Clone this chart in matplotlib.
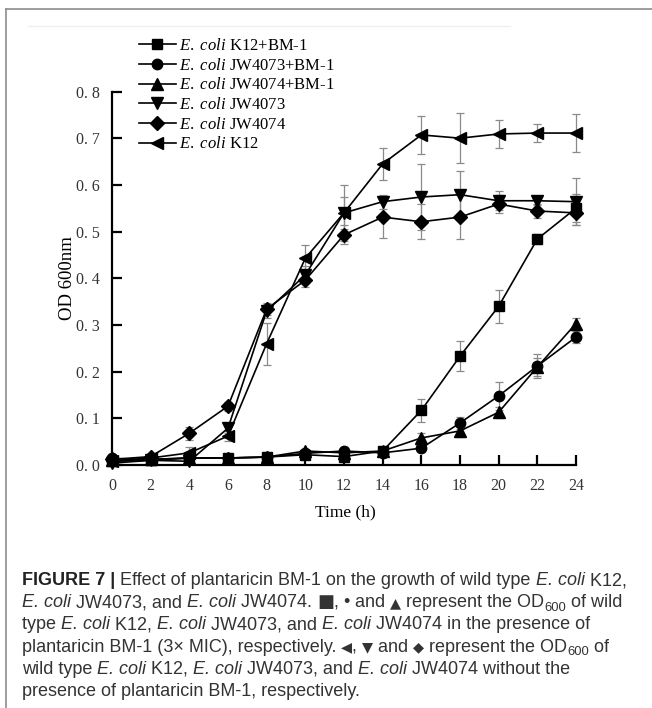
import matplotlib
matplotlib.use("Agg")
import matplotlib.pyplot as plt
from matplotlib.lines import Line2D
import numpy as np

# ---------------- data ----------------
time_h = [0, 2, 4, 6, 8, 10, 12, 14, 16, 18, 20, 22, 24]

k12_bm1 = [0.008, 0.010, 0.015, 0.015, 0.017, 0.022, 0.018, 0.030, 0.117, 0.233, 0.340, 0.484, 0.550]
k12_bm1_err = [0.003, 0.003, 0.003, 0.003, 0.003, 0.004, 0.004, 0.005, 0.025, 0.032, 0.035, 0.010, 0.030]

jw4073_bm1 = [0.014, 0.012, 0.015, 0.015, 0.017, 0.025, 0.030, 0.026, 0.036, 0.090, 0.148, 0.212, 0.274]
jw4073_bm1_err = [0.003, 0.003, 0.003, 0.003, 0.003, 0.004, 0.005, 0.005, 0.008, 0.012, 0.030, 0.025, 0.012]

jw4074_bm1 = [0.010, 0.012, 0.015, 0.015, 0.017, 0.030, 0.026, 0.030, 0.058, 0.073, 0.113, 0.210, 0.303]
jw4074_bm1_err = [0.003, 0.003, 0.003, 0.003, 0.003, 0.004, 0.004, 0.005, 0.010, 0.013, 0.012, 0.020, 0.012]

jw4073 = [0.004, 0.010, 0.008, 0.079, 0.330, 0.407, 0.540, 0.564, 0.574, 0.579, 0.566, 0.566, 0.564]
jw4073_err = [0.003, 0.004, 0.004, 0.010, 0.015, 0.020, 0.035, 0.015, 0.070, 0.050, 0.020, 0.010, 0.050]

jw4074 = [0.012, 0.018, 0.068, 0.126, 0.334, 0.396, 0.493, 0.531, 0.521, 0.531, 0.559, 0.544, 0.540]
jw4074_err = [0.003, 0.004, 0.014, 0.010, 0.012, 0.015, 0.020, 0.045, 0.037, 0.047, 0.020, 0.015, 0.025]

k12 = [0.008, 0.015, 0.026, 0.062, 0.260, 0.443, 0.540, 0.645, 0.707, 0.700, 0.709, 0.711, 0.711]
k12_err = [0.003, 0.008, 0.012, 0.010, 0.045, 0.028, 0.060, 0.035, 0.040, 0.053, 0.030, 0.020, 0.040]

series_labels = [r"$\mathit{E.\ coli}$ K12+BM-1",
                 r"$\mathit{E.\ coli}$ JW4073+BM-1",
                 r"$\mathit{E.\ coli}$ JW4074+BM-1",
                 r"$\mathit{E.\ coli}$ JW4073",
                 r"$\mathit{E.\ coli}$ JW4074",
                 r"$\mathit{E.\ coli}$ K12"]
series_values = [k12_bm1, jw4073_bm1, jw4074_bm1, jw4073, jw4074, k12]
series_errors = [k12_bm1_err, jw4073_bm1_err, jw4074_bm1_err, jw4073_err, jw4074_err, k12_err]
series_markers = ["s", "o", "^", "v", "D", "<"]
series_msize = [7, 7.5, 8, 8, 7, 8]

x_ticks = [0, 2, 4, 6, 8, 10, 12, 14, 16, 18, 20, 22, 24]
y_ticks = [0.0, 0.1, 0.2, 0.3, 0.4, 0.5, 0.6, 0.7, 0.8]
y_ticklabels = ["0. 0", "0. 1", "0. 2", "0. 3", "0. 4", "0. 5", "0. 6", "0. 7", "0. 8"]

# ---------------- figure ----------------
W, H = 652, 708
plt.rcParams["mathtext.fontset"] = "custom"
plt.rcParams["mathtext.rm"] = "Liberation Serif"
plt.rcParams["mathtext.it"] = "Liberation Serif:italic"
plt.rcParams["mathtext.bf"] = "Liberation Serif:bold"

fig = plt.figure(figsize=(W / 100, H / 100), dpi=100)
fig.patch.set_facecolor("white")

def fx(px):
    return px / W

def fy(py):
    return 1 - py / H

ax = fig.add_axes([fx(112), fy(465), fx(576) - fx(112), fy(91.5) - fy(465)])
ax.set_xlim(0, 24)
ax.set_ylim(0, 0.8)

for vals, errs, mk, ms, lab in zip(series_values, series_errors, series_markers,
                                   series_msize, series_labels):
    ax.errorbar(time_h, vals, yerr=errs, fmt="none", ecolor="#8a8a8a",
                elinewidth=0.9, capsize=3.2, capthick=0.9, clip_on=False, zorder=2)
    ax.plot(time_h, vals, color="black", lw=1.2, marker=mk, markersize=ms,
            markerfacecolor="black", markeredgecolor="black", clip_on=False,
            zorder=3, label=lab)

for s in ["top", "right"]:
    ax.spines[s].set_visible(False)
for s in ["left", "bottom"]:
    ax.spines[s].set_linewidth(1.6)
    ax.spines[s].set_color("black")

serif = "Liberation Serif"
ax.set_xticks(x_ticks)
ax.set_xticklabels([str(t) for t in x_ticks], fontfamily=serif, fontsize=11.5, color="#333333")
ax.set_yticks(y_ticks)
ax.set_yticklabels(y_ticklabels, fontfamily=serif, fontsize=11.5, color="#333333")
ax.tick_params(axis="both", direction="in", length=7, width=1.6, color="black")
ax.tick_params(axis="x", pad=9)
ax.tick_params(axis="y", pad=9)

ax.set_xlabel("Time (h)", fontfamily=serif, fontsize=12.5, color="black")
ax.xaxis.set_label_coords((345 - 112) / (576 - 112), (465 - 512) / (465 - 91.5))
ax.xaxis.label.set_va("center")
ax.set_ylabel("OD 600nm", fontfamily=serif, fontsize=13.5, color="black")
ax.yaxis.set_label_coords((67 - 112) / (576 - 112), (465 - 278) / (465 - 91.5))
ax.yaxis.label.set_va("center")

leg = ax.legend(loc="upper left", bbox_to_anchor=(fx(139), fy(38)),
                bbox_transform=fig.transFigure, frameon=False,
                prop={"family": serif, "size": 12}, handlelength=2.2,
                handletextpad=0.2, labelspacing=0.22, borderpad=0,
                borderaxespad=0)

# ---------------- frame decoration ----------------
fig.add_artist(Line2D([fx(6), 1], [fy(9), fy(9)], color="#8c8c8c", lw=1.2))
fig.add_artist(Line2D([fx(6), fx(6)], [fy(9), 0], color="#8c8c8c", lw=1.2))
fig.add_artist(Line2D([fx(28), fx(510)], [fy(26), fy(26)], color="#efefef", lw=1.0))

# ---------------- caption ----------------
fig.canvas.draw()
renderer = fig.canvas.get_renderer()

CAP_FS = 13.0
SANS = ["Liberation Sans", "DejaVu Sans"]
caption_lines = [
    [("FIGURE 7 | ", "bf"), ("Effect of plantaricin BM-1 on the growth of wild type ", "n"),
     ("E. coli", "it"), (" K12,", "n")],
    [("E. coli", "it"), (" JW4073, and ", "n"), ("E. coli", "it"), (" JW4074. ", "n"),
     ("\u25a0", "sym"), (", ", "n"), ("\u2022", "n"), (" and ", "n"), ("\u25b2", "symS"),
     (" represent the OD", "n"), ("600", "sub"), (" of wild", "n")],
    [("type ", "n"), ("E. coli", "it"), (" K12, ", "n"), ("E. coli", "it"),
     (" JW4073, and ", "n"), ("E. coli", "it"), (" JW4074 in the presence of", "n")],
    [("plantaricin BM-1 (3\u00d7 MIC), respectively. ", "n"), ("\u25c0", "symS"), (", ", "n"),
     ("\u25bc", "symS"), (" and ", "n"), ("\u25c6", "symS"), (" represent the OD", "n"),
     ("600", "sub"), (" of", "n")],
    [("wild type ", "n"), ("E. coli", "it"), (" K12, ", "n"), ("E. coli", "it"),
     (" JW4073, and ", "n"), ("E. coli", "it"), (" JW4074 without the", "n")],
    [("presence of plantaricin BM-1, respectively.", "n")],
]

base0 = 585
line_gap = 22.2
for i, runs in enumerate(caption_lines):
    xpx = 22.0
    ybase = base0 + i * line_gap
    for s, st in runs:
        kw = dict(fontsize=CAP_FS, family=SANS, color="#333333", va="baseline", ha="left")
        y = ybase
        if st == "bf":
            kw["weight"] = "bold"
            kw["color"] = "#222222"
        elif st == "it":
            kw["style"] = "italic"
        elif st == "sub":
            kw["fontsize"] = CAP_FS * 0.72
            y = ybase + 3.5
        elif st == "sym":
            kw["family"] = ["DejaVu Sans"]
        elif st == "symS":
            kw["family"] = ["DejaVu Sans"]
            kw["fontsize"] = CAP_FS * 0.8
        t = fig.text(fx(xpx), fy(y), s, **kw)
        bb = t.get_window_extent(renderer)
        xpx += bb.width

fig.savefig("out.png", dpi=100, facecolor="white")
